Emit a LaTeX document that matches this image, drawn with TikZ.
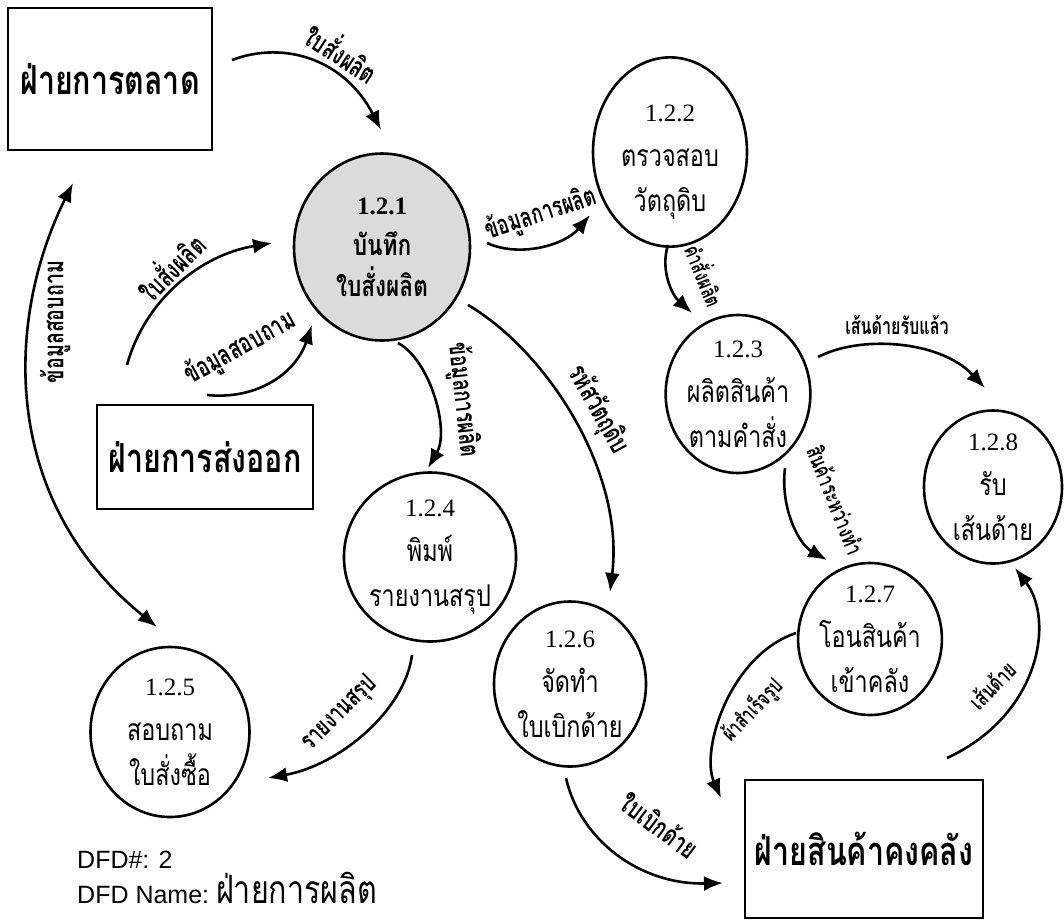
\documentclass[tikz,border=0pt]{standalone}
\usepackage{fontspec}
\usetikzlibrary{shapes.geometric,arrows.meta}
\setmainfont{Liberation Serif}
\newfontfamily\thaibox[Script=Thai,FakeStretch=0.76]{Loma}
\newfontfamily\thaicirc[Script=Thai,FakeStretch=0.78]{Loma}
\newfontfamily\thailbl[Script=Thai,FakeStretch=0.7]{Loma}
\newfontfamily\dfdsans{Liberation Sans}

\tikzset{
  ext/.style={rectangle, draw, line width=2.6pt, inner sep=0pt,
    font=\fontsize{40}{44}\selectfont\thaibox\bfseries},
  proc/.style={ellipse, draw, line width=2.6pt, inner sep=0pt, align=center,
    font=\fontsize{30}{45}\selectfont\thaicirc},
  shaded/.style={fill=black!14},
  flow/.style={line width=2.6pt, -{Latex[length=19pt,width=15pt]}},
  twoway/.style={line width=2.6pt, {Latex[length=19pt,width=15pt]}-{Latex[length=19pt,width=15pt]}},
  lbl/.style={inner sep=0pt, font=\fontsize{#1}{30}\selectfont\thailbl\bfseries},
  lbl/.default=28,
  caption/.style={anchor=base west, inner sep=0pt, font=\fontsize{25}{28}\selectfont\dfdsans}
}
\newcommand{\pnum}[1]{{\fontsize{25}{45}\selectfont\rmfamily #1}}

\begin{document}
\begin{tikzpicture}[x=1pt,y=-1pt]
  % page area
  \fill[white] (0,0) rectangle (1064,919);
  \useasboundingbox (0,0) rectangle (1064,919);

  % external entities
  \node[ext, minimum width=204pt, minimum height=142pt] (mkt) at (110,79) {ฝ่ายการตลาด};
  \node[ext, minimum width=216pt, minimum height=104pt] (exp) at (205,457) {ฝ่ายการส่งออก};
  \node[ext, minimum width=238pt, minimum height=138pt] (inv) at (864,849) {ฝ่ายสินค้าคงคลัง};

  % processes
  \node[proc, shaded, minimum width=176pt, minimum height=187pt, font=\fontsize{29}{41}\selectfont\thaicirc\bfseries] (p121) at (382,247)
    {{\bfseries\pnum{1.2.1}}\\ บันทึก\\ ใบสั่งผลิต};
  \node[proc, minimum width=154pt, minimum height=164pt] (p122) at (670,152)
    {\pnum{1.2.2}\rule{0pt}{36pt}\\ ตรวจสอบ\\ วัตถุดิบ};
  \node[proc, minimum width=143pt, minimum height=158pt] (p123) at (738,394)
    {\pnum{1.2.3}\\ ผลิตสินค้า\\ ตามคำสั่ง};
  \node[proc, minimum width=155pt, minimum height=169pt] (p124) at (430,557)
    {\pnum{1.2.4}\\ พิมพ์\\ รายงานสรุป};
  \node[proc, minimum width=159pt, minimum height=170pt] (p125) at (170,732)
    {\pnum{1.2.5}\\ สอบถาม\\ ใบสั่งซื้อ};
  \node[proc, minimum width=152pt, minimum height=165pt] (p126) at (570,684)
    {\pnum{1.2.6}\\ จัดทำ\\ ใบเบิกด้าย};
  \node[proc, minimum width=132pt, minimum height=152pt] (p127) at (870,639)
    {\pnum{1.2.7}\\ โอนสินค้า\\ เข้าคลัง};
  \node[proc, minimum width=138pt, minimum height=153pt] (p128) at (993,487)
    {\pnum{1.2.8}\\ รับ\\ เส้นด้าย};

  % connector end points
  \coordinate (a1) at (232,60);   \coordinate (b1) at (381,130);
  \coordinate (a2) at (127,365);  \coordinate (b2) at (272,243);
  \coordinate (a3) at (207,395);  \coordinate (b3) at (312,325);
  \coordinate (a4) at (73,183);   \coordinate (b4) at (157,627);
  \coordinate (a5) at (487,243);  \coordinate (b5) at (590,215);
  \coordinate (a6) at (668,245);  \coordinate (b6) at (692,313);
  \coordinate (a7) at (818,357);  \coordinate (b7) at (985,388);
  \coordinate (a8) at (785,468);  \coordinate (b8) at (827,560);
  \coordinate (a9) at (468,305);  \coordinate (b9) at (610,592);
  \coordinate (a10) at (398,343); \coordinate (b10) at (428,468);
  \coordinate (a11) at (412,655); \coordinate (b11) at (268,778);
  \coordinate (a12) at (566,778); \coordinate (b12) at (723,883);
  \coordinate (a13) at (796,633); \coordinate (b13) at (721,798);
  \coordinate (a14) at (947,758); \coordinate (b14) at (1015,568);

  % data flows
  \draw[flow] (a1) .. controls (285,40) and (345,60) .. (b1);
  \draw[flow] (a2) .. controls (145,300) and (200,255) .. (b2);
  \draw[flow] (a3) .. controls (255,400) and (295,375) .. (b3);
  \draw[twoway] (a4) .. controls (5,320) and (0,500) .. (b4);
  \draw[flow] (a5) .. controls (520,258) and (565,245) .. (b5);
  \draw[flow] (a6) .. controls (660,270) and (672,295) .. (b6);
  \draw[flow] (a7) .. controls (860,335) and (940,340) .. (b7);
  \draw[flow] (a8) .. controls (780,510) and (800,545) .. (b8);
  \draw[flow] (a9) .. controls (545,350) and (625,470) .. (b9);
  \draw[flow] (a10) .. controls (430,360) and (450,430) .. (b10);
  \draw[flow] (a11) .. controls (405,710) and (340,765) .. (b11);
  \draw[flow] (a12) .. controls (580,840) and (640,885) .. (b12);
  \draw[flow] (a13) .. controls (730,655) and (700,750) .. (b13);
  \draw[flow] (a14) .. controls (1040,715) and (1055,620) .. (b14);

  % flow labels
  \node[lbl, rotate=-33] (l1) at (343,52) {ใบสั่งผลิต};
  \node[lbl, rotate=45] (l2) at (170,266) {ใบสั่งผลิต};
  \node[lbl, rotate=29] (l3) at (240,348) {ข้อมูลสอบถาม};
  \node[lbl, rotate=90] (l4) at (55,322) {ข้อมูลสอบถาม};
  \node[lbl=27, rotate=18] (l5) at (541,214) {ข้อมูลการผลิต};
  \node[lbl=22, rotate=-68] (l6) at (706,275) {คำสั่งผลิต};
  \node[lbl=23] (l7) at (897,325) {เส้นด้ายรับแล้ว};
  \node[lbl=23, rotate=-68] (l8) at (836,500) {สินค้าระหว่างทำ};
  \node[lbl, rotate=-61] (l9) at (598,410) {รหัสวัตถุดิบ};
  \node[lbl=27, rotate=-84] (l10) at (463,400) {ข้อมูลการผลิต};
  \node[lbl=26, rotate=44] (l11) at (340,714) {รายงานสรุป};
  \node[lbl, rotate=-37] (l12) at (660,825) {ใบเบิกด้าย};
  \node[lbl=22, rotate=46] (l13) at (752,710) {ผ้าสำเร็จรูป};
  \node[lbl=23, rotate=45] (l14) at (992,685) {เส้นด้าย};

  % diagram caption
  \node[caption] (dfdno) at (77,868) {DFD\#: 2};
  \node[caption] (dfdname) at (77,903) {DFD Name:\hspace{7pt}\raisebox{0pt}[\height][0pt]{\fontsize{39}{41}\selectfont\thaicirc ฝ่ายการผลิต}};
\end{tikzpicture}
\end{document}
